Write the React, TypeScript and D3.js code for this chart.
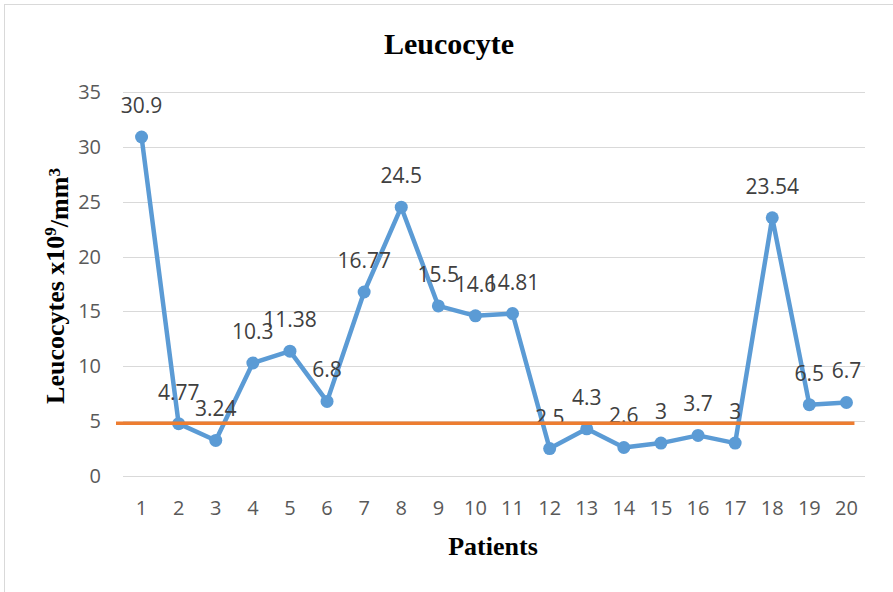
import React, { useEffect, useRef } from 'react';
import * as d3 from 'd3';

// chart data
const patients = ['1', '2', '3', '4', '5', '6', '7', '8', '9', '10', '11', '12', '13', '14', '15', '16', '17', '18', '19', '20'];
const leucocytes = [30.9, 4.77, 3.24, 10.3, 11.38, 6.8, 16.77, 24.5, 15.5, 14.6, 14.81, 2.5, 4.3, 2.6, 3, 3.7, 3, 23.54, 6.5, 6.7];
const yTicks = [0, 5, 10, 15, 20, 25, 30, 35];
const referenceValue = 4.8;

const App = () => {
    const ref = useRef<SVGSVGElement>(null);

    useEffect(() => {
        const svg = d3.select(ref.current);
        svg.selectAll('*').remove();

        const W = 893, H = 592;
        const margin = { top: 92, right: 28, bottom: 116, left: 123 };

        const x = d3.scaleBand<string>()
            .domain(patients)
            .range([margin.left, W - margin.right]);

        const y = d3.scaleLinear()
            .domain([0, 35])
            .range([H - margin.bottom, margin.top]);

        const cx = (d: string) => (x(d) as number) + x.bandwidth() / 2;

        // outer chart border
        svg.append('rect')
            .attr('x', 4.5).attr('y', 4.5)
            .attr('width', W + 10).attr('height', H + 10)
            .attr('fill', 'white')
            .attr('stroke', '#d9d9d9');

        // gridlines
        svg.append('g')
            .selectAll('line')
            .data(yTicks)
            .join('line')
            .attr('x1', margin.left)
            .attr('x2', W - margin.right)
            .attr('y1', d => Math.round(y(d)) + 0.5)
            .attr('y2', d => Math.round(y(d)) + 0.5)
            .attr('stroke', '#d9d9d9')
            .attr('stroke-width', 1);

        // y tick labels
        svg.append('g')
            .selectAll('text')
            .data(yTicks)
            .join('text')
            .attr('x', margin.left - 22)
            .attr('y', d => y(d))
            .attr('dy', '0.35em')
            .attr('text-anchor', 'end')
            .style('font-family', '"Open Sans", sans-serif')
            .style('font-size', '20px')
            .style('fill', '#595959')
            .text(d => d);

        // x tick labels
        svg.append('g')
            .selectAll('text')
            .data(patients)
            .join('text')
            .attr('x', d => cx(d))
            .attr('y', H - margin.bottom + 39)
            .attr('text-anchor', 'middle')
            .style('font-family', '"Open Sans", sans-serif')
            .style('font-size', '20px')
            .style('fill', '#595959')
            .text(d => d);

        // series line
        const line = d3.line<number>()
            .x((_, i) => cx(patients[i]))
            .y(d => y(d));

        svg.append('path')
            .datum(leucocytes)
            .attr('fill', 'none')
            .attr('stroke', '#5b9bd5')
            .attr('stroke-width', 4.5)
            .attr('stroke-linejoin', 'round')
            .attr('d', line);

        svg.append('g')
            .selectAll('circle')
            .data(leucocytes)
            .join('circle')
            .attr('cx', (_, i) => cx(patients[i]))
            .attr('cy', d => y(d))
            .attr('r', 6.5)
            .attr('fill', '#5b9bd5');

        // data labels
        svg.append('g')
            .selectAll('text')
            .data(leucocytes)
            .join('text')
            .attr('x', (_, i) => cx(patients[i]))
            .attr('y', d => y(d) - 24)
            .attr('text-anchor', 'middle')
            .style('font-family', '"Open Sans", sans-serif')
            .style('font-size', '21px')
            .style('fill', '#404040')
            .text(d => d);

        // reference line
        svg.append('line')
            .attr('x1', margin.left - 7)
            .attr('x2', cx(patients[patients.length - 1]) + 8)
            .attr('y1', y(referenceValue))
            .attr('y2', y(referenceValue))
            .attr('stroke', '#ed7d31')
            .attr('stroke-width', 3.5);

        // titles
        svg.append('text')
            .attr('x', 449)
            .attr('y', 54)
            .attr('text-anchor', 'middle')
            .style('font-family', '"Liberation Serif", "Times New Roman", serif')
            .style('font-weight', 'bold')
            .style('font-size', '30px')
            .style('fill', '#000')
            .text('Leucocyte');

        svg.append('text')
            .attr('x', 493)
            .attr('y', 555)
            .attr('text-anchor', 'middle')
            .style('font-family', '"Liberation Serif", "Times New Roman", serif')
            .style('font-weight', 'bold')
            .style('font-size', '26px')
            .style('fill', '#000')
            .text('Patients');

        const yTitle = svg.append('text')
            .attr('transform', `translate(64,${(y(0) + y(35)) / 2 + 2}) rotate(-90)`)
            .attr('text-anchor', 'middle')
            .style('font-family', '"Liberation Serif", "Times New Roman", serif')
            .style('font-weight', 'bold')
            .style('font-size', '26px')
            .style('fill', '#000');
        yTitle.append('tspan').text('Leucocytes x10');
        yTitle.append('tspan').attr('dy', '-0.45em').style('font-size', '17px').text('9');
        yTitle.append('tspan').attr('dy', '0.45em').text('/mm');
        yTitle.append('tspan').attr('dy', '-0.45em').style('font-size', '17px').text('3');
    }, []);

    return (
        <svg
            ref={ref}
            width={893}
            height={592}
            style={{ position: 'absolute', left: 0, top: 0, background: 'white' }}
        />
    );
};

export default App;
